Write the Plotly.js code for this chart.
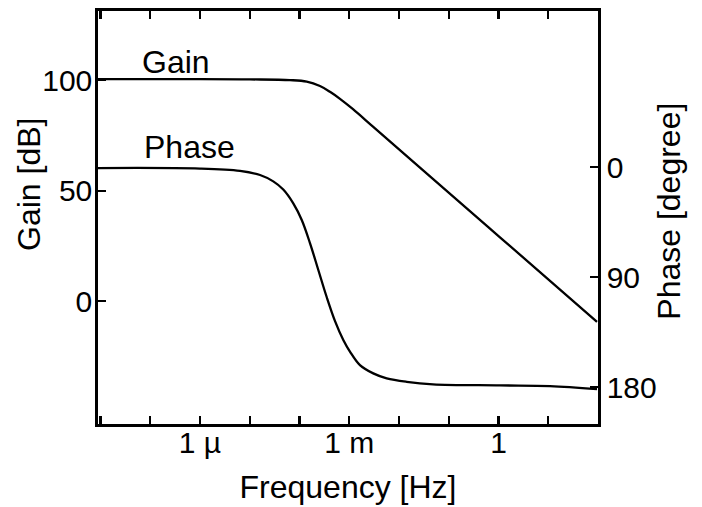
<!DOCTYPE html>
<html>
<head>
<meta charset="utf-8">
<script src="https://cdn.plot.ly/plotly-3.0.1.min.js"></script>
<style>
html, body { margin: 0; padding: 0; background: #ffffff; }
#chart { width: 702px; height: 507px; }
</style>
</head>
<body>
<div id="chart"></div>
<script>
// Frequency [Hz] at which each curve was read
const gainFreq = [8.9e-9, 1e-6, 1.01e-5, 6.44e-5, 1.40e-4, 2.58e-4, 4.10e-4, 6.52e-4, 1.19e-3, 3.0e-3, 2.64e-2, 1.07, 95.5];
// Gain [dB]
const gainVals = [100.5, 100.5, 100.4, 100.1, 99.4, 97.4, 94.8, 91.6, 86.9, 79.0, 60.4, 28.9, -9.4];

const phaseFreq = [8.9e-9, 1e-6, 6.37e-6, 1.61e-5, 2.97e-5, 4.72e-5, 7.5e-5, 1.11e-4, 1.63e-4, 2.39e-4, 3.52e-4, 5.18e-4, 7.59e-4, 1.04e-3, 1.64e-3, 3.04e-3, 5.66e-3, 1.43e-2, 4.82e-2, 1.07, 10.8, 95.5];
// Phase [degree] (lag, drawn increasing downward)
const phaseVals = [0.6, 1.0, 2.9, 6.3, 11.5, 18.2, 29.5, 43.1, 62.2, 84.0, 106.1, 125.8, 141.2, 150.9, 161.8, 168.6, 172.7, 175.5, 177.5, 178.4, 179.0, 181.5];

// Axis ticks
const xTickVals = [1e-8, 1e-7, 1e-6, 1e-5, 1e-4, 1e-3, 1e-2, 1e-1, 1, 10, 100];
const xTickText = ['', '', '1 µ', '', '', '1 m', '', '', '1', '', ''];
const gainTicks = [0, 50, 100];
const phaseTicks = [0, 90, 180];

const FONT = 'Liberation Sans, Arial, Helvetica, sans-serif';

const traces = [
  {
    x: gainFreq, y: gainVals, type: 'scatter', mode: 'lines',
    line: { color: '#000000', width: 2.3, shape: 'spline', smoothing: 1 },
    yaxis: 'y', hoverinfo: 'skip', showlegend: false
  },
  {
    x: phaseFreq, y: phaseVals, type: 'scatter', mode: 'lines',
    line: { color: '#000000', width: 2.3, shape: 'spline', smoothing: 1 },
    yaxis: 'y2', hoverinfo: 'skip', showlegend: false
  }
];

const layout = {
  width: 702, height: 507,
  margin: { l: 98, r: 104, t: 11, b: 83 },
  paper_bgcolor: '#ffffff', plot_bgcolor: '#ffffff',
  font: { family: FONT, color: '#000000', size: 30 },
  showlegend: false,
  xaxis: {
    type: 'log', range: [-8.05, 2.0],
    tickmode: 'array', tickvals: xTickVals, ticktext: xTickText,
    ticks: 'inside', ticklen: 8, tickwidth: 2.3, tickcolor: '#000',
    ticklabelstandoff: -10,
    showline: true, linecolor: '#000', linewidth: 2.7, mirror: 'ticks',
    showgrid: false, zeroline: false,
    tickfont: { family: FONT, size: 30, color: '#000' },
    title: { text: 'Frequency [Hz]', font: { family: FONT, size: 32, color: '#000' }, standoff: 18 },
    automargin: false
  },
  yaxis: {
    range: [-55.7, 131.4],
    tickmode: 'array', tickvals: gainTicks, ticktext: gainTicks.map(String),
    ticks: 'inside', ticklen: 8, tickwidth: 2.3, tickcolor: '#000',
    ticklabelstandoff: -3,
    showline: true, linecolor: '#000', linewidth: 2.7,
    showgrid: false, zeroline: false,
    tickfont: { family: FONT, size: 30, color: '#000' },
    automargin: false
  },
  yaxis2: {
    overlaying: 'y', side: 'right',
    range: [210, -127.9],
    tickmode: 'array', tickvals: phaseTicks, ticktext: phaseTicks.map(String),
    ticks: 'inside', ticklen: 8, tickwidth: 2.3, tickcolor: '#000',
    showline: true, linecolor: '#000', linewidth: 2.7,
    showgrid: false, zeroline: false,
    tickfont: { family: FONT, size: 30, color: '#000' },
    automargin: false
  },
  annotations: [
    {
      text: 'Gain', xref: 'x', yref: 'y', x: -7.2, y: 108.3,
      xanchor: 'left', yanchor: 'middle', showarrow: false,
      font: { family: FONT, size: 32, color: '#000' }
    },
    {
      text: 'Phase', xref: 'x', yref: 'y2', x: -7.17, y: -16.6,
      xanchor: 'left', yanchor: 'middle', showarrow: false,
      font: { family: FONT, size: 32, color: '#000' }
    },
    {
      text: 'Gain [dB]', xref: 'paper', yref: 'paper', x: -0.138, y: 0.5787,
      xanchor: 'center', yanchor: 'middle', textangle: -90, showarrow: false,
      font: { family: FONT, size: 32, color: '#000' }
    },
    {
      text: 'Phase [degree]', xref: 'paper', yref: 'paper', x: 1.1414, y: 0.5157,
      xanchor: 'center', yanchor: 'middle', textangle: -90, showarrow: false,
      font: { family: FONT, size: 32, color: '#000' }
    }
  ]
};

Plotly.newPlot('chart', traces, layout, { staticPlot: true, displayModeBar: false });
</script>
</body>
</html>
